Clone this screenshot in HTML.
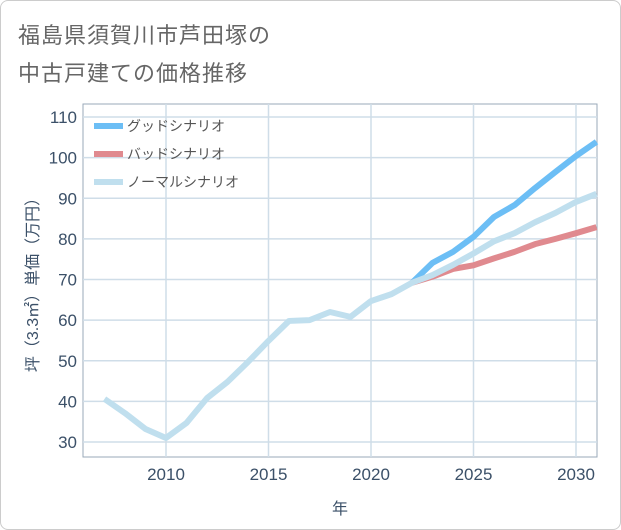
<!DOCTYPE html>
<html><head><meta charset="utf-8"><style>
body{margin:0;background:#fff;}
#wrap{position:relative;width:619px;height:528px;border:1px solid #ccc;border-radius:8px;overflow:hidden;font-family:"Liberation Sans","Noto Sans CJK JP",sans-serif;}
.title{position:absolute;left:17px;font-size:22px;color:#666;letter-spacing:1px;}
</style></head><body>
<div id="wrap">
<div class="title" style="top:17px">福島県須賀川市芦田塚の</div>
<div class="title" style="top:55px">中古戸建ての価格推移</div>
<svg id="chart" width="621" height="530" style="position:absolute;left:-1px;top:-1px"></svg>
</div>
<script>
const years=[2007,2008,2009,2010,2011,2012,2013,2014,2015,2016,2017,2018,2019,2020,2021,2022];
const hist=[40.6,37.1,33.2,31,34.7,40.8,44.8,49.7,54.9,59.8,60,62,60.8,64.7,66.4,69.2];
const fYears=[2022,2023,2024,2025,2026,2027,2028,2029,2030,2031];
const good=[69.2,74.1,76.8,80.5,85.4,88.3,92.5,96.5,100.4,103.9];
const bad=[69.2,70.7,72.6,73.5,75.2,76.8,78.7,80,81.4,82.9];
const normal=[69.2,71.1,73.6,76.4,79.4,81.4,84.1,86.4,89.1,91.1];
const yTicks=[30,40,50,60,70,80,90,100,110];
const xTicks=[2010,2015,2020,2025,2030];
const legendNames=["グッドシナリオ","バッドシナリオ","ノーマルシナリオ"];
const colors=["#6cbef5","#e08a8f","#c0dfee"];
const L=83,R=597,T=104,B=457;
const x=v=>166+(v-2010)*20.5;
const y=v=>442-(v-30)*4.0625;
const svg=document.getElementById('chart');
const NS='http://www.w3.org/2000/svg';
function mk(t,a){const e=document.createElementNS(NS,t);for(const k in a)e.setAttribute(k,a[k]);svg.appendChild(e);return e;}
const bg=mk('rect',{x:L,y:T,width:R-L,height:B-T,fill:'#fff',stroke:'#9aa9b8','stroke-width':1});


yTicks.forEach(v=>{
 const g=mk('line',{x1:L,x2:R,y1:y(v),y2:y(v),stroke:'#cfdde8','stroke-width':1.5});
 
 
 const t=mk('text',{x:L-6,y:y(v)+6,'text-anchor':'end','font-size':17,fill:'#3b5068'});
 t.textContent=v;
 
 
});
xTicks.forEach(v=>{
 const g=mk('line',{x1:x(v),x2:x(v),y1:T,y2:B,stroke:'#cfdde8','stroke-width':1.5});
 
 
 const t=mk('text',{x:x(v),y:B+23,'text-anchor':'middle','font-size':17,fill:'#3b5068'});
 t.textContent=v;
 
 
});
function line(xs,vs,c,name){
 const p=mk('polyline',{points:xs.map((v,i)=>x(v)+','+y(vs[i])).join(' '),fill:'none',stroke:c,'stroke-width':6,'stroke-linejoin':'round'});
 
 
}
line(fYears,good,colors[0],'good-scenario-line');
line(fYears,bad,colors[1],'bad-scenario-line');
line(years.concat(fYears.slice(1)),hist.concat(normal.slice(1)),colors[2],'normal-scenario-line');
legendNames.forEach((n,i)=>{
 const ly=126+i*28;
 const l=mk('line',{x1:94,x2:123,y1:ly,y2:ly,stroke:colors[i],'stroke-width':6});
 
 
 const t=mk('text',{x:127,y:ly+5,'font-size':14,fill:'#555'});
 t.textContent=n;
 
 
});
const yt=mk('text',{transform:'translate(38,281) rotate(-90)','text-anchor':'middle','font-size':16,fill:'#3b5068'});
yt.textContent='坪（3.3㎡）単価（万円）';


const xt=mk('text',{x:340,y:514,'text-anchor':'middle','font-size':16,fill:'#3b5068'});
xt.textContent='年';


</script>
</body></html>
